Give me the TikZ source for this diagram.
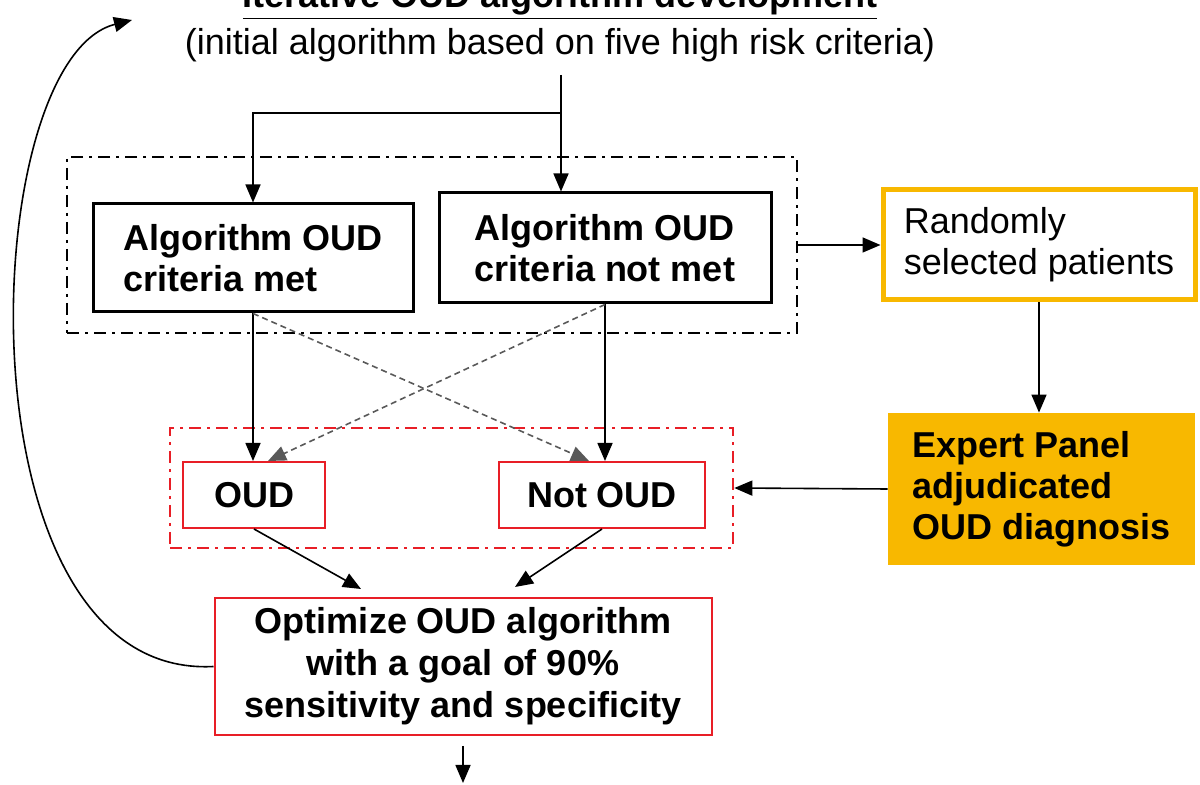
\documentclass[tikz,border=0pt]{standalone}
\usepackage{fontspec}
\setmainfont{Liberation Sans}
\usetikzlibrary{arrows.meta}

\definecolor{panelgold}{RGB}{248,184,0}
\definecolor{boxred}{RGB}{232,30,38}

\begin{document}
\begin{tikzpicture}[x=0.5pt, y=-0.5pt,
  every node/.style={font=\fontsize{18}{20.5}\selectfont, inner sep=0pt},
  conn/.style={-{Triangle[length=9pt,width=7.5pt]}, line width=0.8pt},
  crossconn/.style={conn, gray!70!black, dash pattern=on 3pt off 2pt},
  grpline/.style={line width=1.3pt, dash pattern=on 6pt off 3pt on 1.5pt off 3pt},
  algbox/.style={draw, line width=1.5pt, align=left, font=\fontsize{18}{20.5}\selectfont\bfseries},
  dxbox/.style={draw=boxred, line width=1pt, align=center, font=\fontsize{18}{21}\selectfont\bfseries}]
\useasboundingbox (0,0) rectangle (1200,785);
\clip (0,0) rectangle (1200,785);

% heading
\node[anchor=base, font=\fontsize{18}{20.5}\selectfont\bfseries] (title) at (560,8) {\underline{Iterative OUD algorithm development}};
\node (sub) at (560,45) {(initial algorithm based on five high risk criteria)};

% groups
\node[grpline, draw, minimum width=365pt, minimum height=88pt] (grpalg) at (432,245) {};
\node[grpline, draw=boxred, minimum width=281.5pt, minimum height=60pt] (grpdx) at (451.5,488) {};

% boxes
\node[algbox, minimum width=160pt, minimum height=54pt] (crmet) at (253,258) {Algorithm OUD\\criteria met};
\node[algbox, minimum width=166pt, minimum height=55pt] (crnot) at (605,248) {Algorithm OUD\\criteria not met};
\node[draw=panelgold, line width=2.5pt, align=left, minimum width=156pt, minimum height=55pt] (rand) at (1039,245) {Randomly\\selected patients};
\node[fill=panelgold, align=left, minimum width=153.5pt, minimum height=76pt, font=\fontsize{18}{20.5}\selectfont\bfseries] (expert) at (1041.5,489) {Expert Panel\\adjudicated\\OUD diagnosis};
\node[dxbox, minimum width=71pt, minimum height=33pt] (oud) at (254,495) {OUD};
\node[dxbox, minimum width=103pt, minimum height=33pt] (notoud) at (602,495) {Not OUD};
\node[dxbox, minimum width=248.5pt, minimum height=68.5pt] (optim) at (463,666.5) {Optimize OUD algorithm\\with a goal of 90\%\\sensitivity and specificity};

\coordinate (src) at (561,75);
\coordinate (split) at (561,113);
\coordinate (next) at (463,783);
\coordinate (loopend) at (132,20);

% connectors
\draw[conn] (src) -- (src |- crnot.north);
\draw[conn] (split) -| (crmet.north);
\draw[conn] (grpalg.east) -- (rand.west);
\draw[conn] (rand.south) -- (rand.south |- expert.north);
\draw[conn] (expert.west) -- (grpdx.east);
\draw[conn] (crmet.south) -- (crmet.south |- oud.north);
\draw[conn] (crnot.south) -- (crnot.south |- notoud.north);
\draw[crossconn] (crmet.south) -- ([xshift=-6.5pt]notoud.north);
\draw[crossconn] (crnot.south) -- ([xshift=7pt]oud.north);
\draw[conn] (oud.south) -- ([xshift=-51pt,yshift=4pt]optim.north);
\draw[conn] (notoud.south) -- ([xshift=26pt,yshift=5pt]optim.north);
\draw[conn] ([yshift=-5pt]optim.south) -- (next);
\draw[conn] (optim.west) .. controls (-45,680) and (-25,60) .. (loopend);
\end{tikzpicture}
\end{document}
